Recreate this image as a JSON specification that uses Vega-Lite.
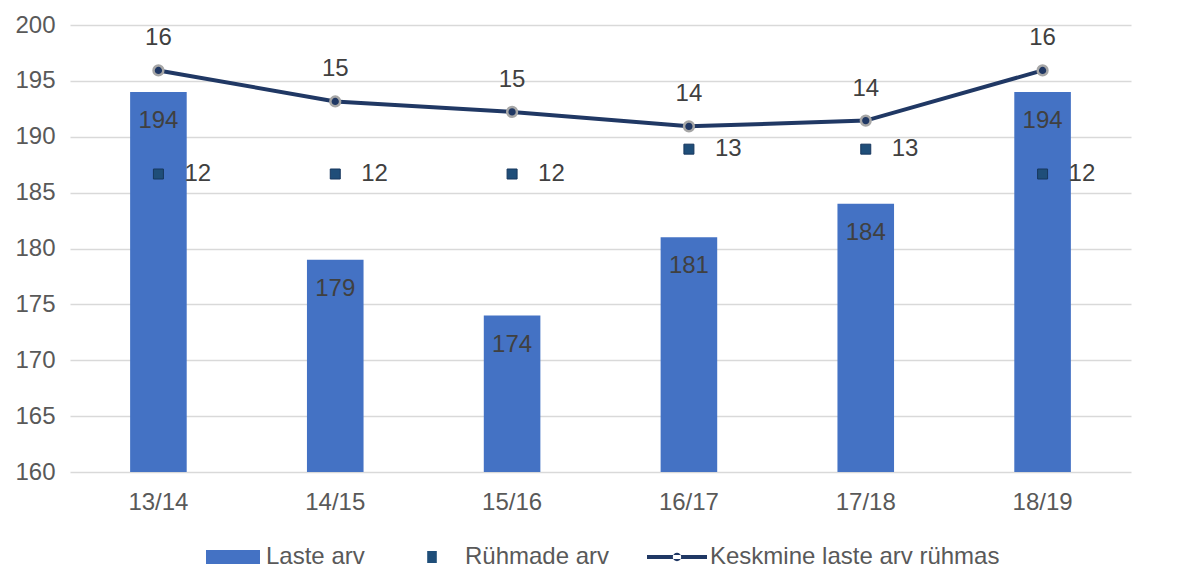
{
  "$schema": "https://vega.github.io/schema/vega-lite/v6.json",
  "autosize": "none",
  "width": 1061,
  "height": 447,
  "padding": {"left": 70, "top": 25, "right": 56, "bottom": 97},
  "background": "white",
  "config": {
    "font": "Liberation Sans",
    "view": {"stroke": null},
    "axis": {"labelFont": "Liberation Sans", "labelFontSize": 24, "labelColor": "#595959", "ticks": false, "domain": false, "title": null}
  },
  "data": {
    "values": [
      {"aasta": "13/14", "laste": 194, "ruhmi": 12, "keskmine": 16.17},
      {"aasta": "14/15", "laste": 179, "ruhmi": 12, "keskmine": 14.92},
      {"aasta": "15/16", "laste": 174, "ruhmi": 12, "keskmine": 14.5},
      {"aasta": "16/17", "laste": 181, "ruhmi": 13, "keskmine": 13.92},
      {"aasta": "17/18", "laste": 184, "ruhmi": 13, "keskmine": 14.15},
      {"aasta": "18/19", "laste": 194, "ruhmi": 12, "keskmine": 16.17}
    ]
  },
  "encoding": {
    "x": {
      "field": "aasta", "type": "nominal", "sort": null,
      "scale": {"paddingInner": 0.68, "paddingOuter": 0.34},
      "axis": {"labelAngle": 0, "labelPadding": 18, "grid": false}
    }
  },
  "layer": [
    {
      "encoding": {
        "y": {
          "field": "laste", "type": "quantitative",
          "scale": {"domain": [160, 200], "zero": false, "nice": false},
          "axis": {"orient": "left", "values": [160, 165, 170, 175, 180, 185, 190, 195, 200], "grid": true, "gridColor": "#d9d9d9", "gridWidth": 1.5, "labelPadding": 15}
        }
      },
      "layer": [
        {
          "mark": {"type": "bar"},
          "encoding": {
            "y2": {"datum": 160},
            "color": {
              "datum": "Laste arv",
              "scale": {"domain": ["Laste arv", "Rühmade arv", "Keskmine laste arv rühmas"], "range": ["#4472C4", "#1F4E79", "#203864"]},
              "legend": {
                "title": null,
                "orient": "none",
                "legendX": 133,
                "legendY": 502,
                "direction": "horizontal",
                "padding": 0,
                "symbolSize": 3600,
                "labelFont": "Liberation Sans",
                "labelFontSize": 24,
                "labelColor": "#595959",
                "labelOffset": 3,
                "labelLimit": 400,
                "columnPadding": 37,
                "encode": {
                  "symbols": {
                    "update": {
                      "shape": {"signal": "datum.value === 'Laste arv' ? 'M-0.9,-0.23H0.9V0.23H-0.9Z' : datum.value === 'Rühmade arv' ? 'M-0.16,-0.2H0.16V0.2H-0.16Z' : 'M-1,-0.07H1V0.07H-1Z M-0.14,0 A0.14,0.14 0 1 0 0.14,0 A0.14,0.14 0 1 0 -0.14,0 Z'"},
                      "fill": {"signal": "datum.value === 'Laste arv' ? '#4472C4' : datum.value === 'Rühmade arv' ? '#1F4E79' : '#203864'"},
                      "stroke": {"value": "transparent"},
                      "strokeWidth": {"value": 0},
                      "opacity": {"value": 1},
                      "fillOpacity": {"value": 1}
                    }
                  }
                }
              }
            }
          }
        },
        {
          "mark": {"type": "text", "baseline": "middle", "dy": 29, "fontSize": 24, "color": "#404040", "font": "Liberation Sans"},
          "encoding": {"text": {"field": "laste", "type": "quantitative"}}
        }
      ]
    },
    {
      "layer": [
        {
          "mark": {"type": "point", "shape": "square", "filled": true, "size": 100, "stroke": "#17375E", "strokeWidth": 1, "opacity": 1},
          "encoding": {
            "y": {
              "field": "ruhmi", "type": "quantitative",
              "scale": {"domain": [0, 18], "nice": false},
              "axis": {"orient": "right", "values": [0, 2, 4, 6, 8, 10, 12, 14, 16, 18], "grid": false, "labelPadding": 16}
            },
            "color": {"datum": "Rühmade arv"}
          }
        },
        {
          "mark": {"type": "text", "align": "left", "baseline": "middle", "dx": 26, "fontSize": 24, "color": "#404040", "font": "Liberation Sans"},
          "encoding": {
            "y": {"field": "ruhmi", "type": "quantitative", "axis": null},
            "text": {"field": "ruhmi", "type": "quantitative"}
          }
        },
        {
          "mark": {"type": "line", "strokeWidth": 4},
          "encoding": {
            "y": {"field": "keskmine", "type": "quantitative", "axis": null},
            "color": {"datum": "Keskmine laste arv rühmas"}
          }
        },
        {
          "mark": {"type": "point", "shape": "circle", "filled": true, "fill": "#203864", "stroke": "#A6A6A6", "strokeWidth": 2.5, "size": 95, "opacity": 1},
          "encoding": {
            "y": {"field": "keskmine", "type": "quantitative", "axis": null}
          }
        },
        {
          "mark": {"type": "text", "baseline": "middle", "dy": -32, "fontSize": 24, "color": "#404040", "font": "Liberation Sans"},
          "encoding": {
            "y": {"field": "keskmine", "type": "quantitative", "axis": null},
            "text": {"field": "keskmine", "type": "quantitative", "format": ".0f"}
          }
        }
      ]
    }
  ],
  "resolve": {"scale": {"y": "independent"}}
}
